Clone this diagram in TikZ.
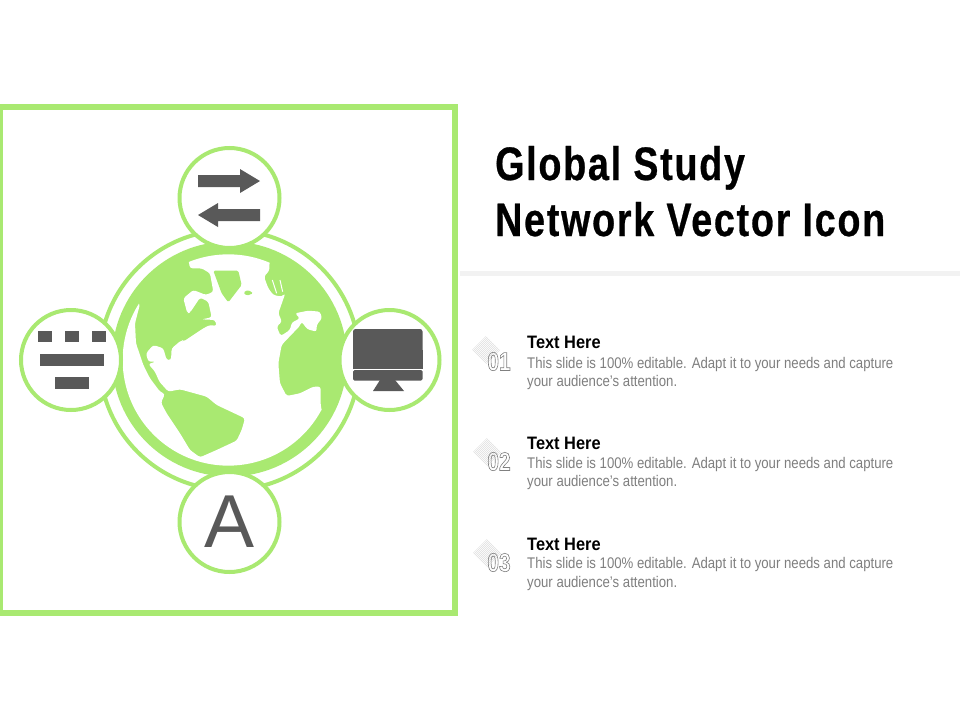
\documentclass[tikz,border=0pt]{standalone}
\usepackage{fontspec}
\setmainfont{Liberation Sans}
\newfontfamily\titlebold[FakeStretch=0.80,LetterSpace=3.8,FakeBold=0.6]{Liberation Sans Bold}
\newfontfamily\narrowbold[FakeStretch=0.91]{Liberation Sans Bold}
\newfontfamily\narrowreg[FakeStretch=0.856]{Liberation Sans}
\newfontfamily\numfont[FakeStretch=0.80]{Liberation Sans Bold}
\definecolor{lime}{HTML}{A9E971}
\definecolor{icongray}{HTML}{595959}
\definecolor{bodygray}{HTML}{7F7F7F}
\definecolor{rulegray}{HTML}{F2F2F2}
\newcommand{\outlinetext}[1]{\special{pdf:code q 1 Tr 0.6 w 0.5 G}#1\special{pdf:code Q}}
\tikzset{
  sat/.style={circle,draw=lime,line width=4pt,fill=white,minimum size=100pt,inner sep=0pt},
  iconfill/.style={fill=icongray,draw=none},
  headtext/.style={anchor=base west,inner sep=0pt,font=\narrowbold\fontsize{18}{20}\selectfont,text=black},
  bodytext/.style={anchor=base west,inner sep=0pt,font=\narrowreg\fontsize{15.4}{18}\selectfont,text=bodygray},
  titletext/.style={anchor=base west,inner sep=0pt,font=\titlebold\fontsize{47}{56}\selectfont,text=black},
  numtext/.style={anchor=center,inner sep=0pt,font=\numfont\fontsize{26}{28}\selectfont},
  hatchline/.style={draw=black!16,line width=0.35pt}
}
\newcommand{\hatchat}[2]{%
  \begin{scope}[shift={(#1,#2)}]
    \clip (-14,0) -- (0,-14) -- (14,0) -- (0,14) -- cycle;
    \foreach \k in {-20,-19,...,20} {\draw[hatchline] (-20+\k,20+\k) -- (20+\k,-20+\k);}
  \end{scope}}
\begin{document}
\begin{tikzpicture}[x=1pt,y=-1pt]
\useasboundingbox (0,0) rectangle (960,720);
\fill[white] (0,0) rectangle (960,720);
% frame
\draw[lime,line width=6pt] (0,107) -- (455,107) -- (455,612.5) -- (0,612.5) -- cycle;
% globe rings
\draw[lime,line width=4pt] (229.5,360) circle (130);
\fill[lime] (229.5,359) circle (117.5);
% oceans, traced in 3x zoom coordinates
\begin{scope}[shift={(100,230)},x=0.3333pt,y=-0.3333pt]
  \begin{scope}
    \clip (385,390) circle (317);
    \fill[white,rounded corners=2.5pt]
      (120,222) -- (105,280) -- (108,340) -- (130,405) -- (150,445) -- (180,485) -- (195,492)
      -- (183,518) -- (200,550) -- (240,610) -- (270,660) -- (300,682) -- (350,660)
      -- (410,632) -- (425,600) -- (435,565) -- (350,525) -- (320,500) -- (240,478) -- (205,485)
      -- (178,455) -- (165,425) -- (145,402) -- (168,395) -- (145,395) -- (138,370) -- (160,345)
      -- (190,355) -- (200,390) -- (213,390) -- (215,355) -- (245,330) -- (250,335) -- (310,295)
      -- (330,285) -- (350,288) -- (345,270) -- (305,268) -- (335,262) -- (325,215) -- (300,203)
      -- (270,248) -- (262,250) -- (250,205) -- (280,180) -- (318,195) -- (340,185) -- (330,130)
      -- (305,115) -- (270,115) -- (260,60) -- (510,50) -- (508,122) -- (492,140) -- (505,175)
      -- (520,195) -- (545,200) -- (556,190) -- (535,250) -- (546,275) -- (530,290) -- (542,318)
      -- (570,300) -- (575,278) -- (600,265) -- (585,250) -- (625,242) -- (660,245) -- (666,265)
      -- (650,285) -- (650,305) -- (622,298) -- (605,275) -- (598,290) -- (580,308) -- (545,345)
      -- (535,400) -- (540,460) -- (560,498) -- (600,490) -- (640,470) -- (662,470) -- (662,525)
      -- (720,800) -- (40,800) -- (0,300) -- (90,200) -- cycle;
  \end{scope}
  % islands
  \fill[lime,rounded corners=1.5pt] (340,122) -- (415,122) -- (425,165) -- (385,217) -- (365,190) -- cycle;
  \fill[lime,rounded corners=1.5pt] (430,187) -- (445,180) -- (460,190) -- (440,197) -- cycle;
  \draw[white,line width=1pt] (517,150) -- (530,190);
  \draw[white,line width=1pt] (540,150) -- (548,185);
\end{scope}
% satellites
\node[sat] (top) at (229.5,198) {};
\node[sat] (left) at (71,360) {};
\node[sat] (right) at (389.5,360) {};
\node[sat,text=icongray,font=\fontsize{75}{80}\selectfont] (bottom) at (229.5,522) {A};
% top icon: two arrows
\fill[iconfill] (198,175) -- (240,175) -- (240,169) -- (260,181) -- (240,193) -- (240,187) -- (198,187) -- cycle;
\fill[iconfill] (260,209) -- (218,209) -- (218,203) -- (198,215) -- (218,227) -- (218,221) -- (260,221) -- cycle;
% left icon
\fill[iconfill] (38,331) rectangle (52,342);
\fill[iconfill] (65,331) rectangle (79,342);
\fill[iconfill] (92,331) rectangle (106,342);
\fill[iconfill] (40,354) rectangle (104,366);
\fill[iconfill] (55,377) rectangle (89,389);
% right icon: monitor
\fill[iconfill,rounded corners=2.5pt] (353,360) -- (353,329) -- (422.5,329) -- (422.5,360) -- cycle;
\fill[iconfill] (353,350) rectangle (422.5,368.5);
\fill[iconfill,rounded corners=1.5pt] (353,370) -- (422.5,370) -- (422.5,380.5) -- (353,380.5) -- cycle;
\fill[iconfill] (380,380) -- (395,380) -- (404,391) -- (373,391) -- cycle;
% title
\node[titletext] (t1) at (495,180) {Global Study};
\node[titletext] (t2) at (495,236) {Network Vector Icon};
\draw[rulegray,line width=5pt] (460,273.5) -- (960,273.5);
% list
\hatchat{486}{350}
\hatchat{487}{452}
\hatchat{487}{553}
\node[numtext] (n1) at (499,361.5) {\outlinetext{01}};
\node[numtext] (n2) at (499,461.5) {\outlinetext{02}};
\node[numtext] (n3) at (499,562.5) {\outlinetext{03}};
\node[headtext] (h1) at (527,348) {Text Here};
\node[bodytext] (b1a) at (527,368) {This slide is 100\% editable. Adapt it to your needs and capture};
\node[bodytext] (b1b) at (527,386) {your audience’s attention.};
\node[headtext] (h2) at (527,449) {Text Here};
\node[bodytext] (b2a) at (527,468) {This slide is 100\% editable. Adapt it to your needs and capture};
\node[bodytext] (b2b) at (527,486) {your audience’s attention.};
\node[headtext] (h3) at (527,550) {Text Here};
\node[bodytext] (b3a) at (527,568) {This slide is 100\% editable. Adapt it to your needs and capture};
\node[bodytext] (b3b) at (527,587) {your audience’s attention.};
\end{tikzpicture}
\end{document}
